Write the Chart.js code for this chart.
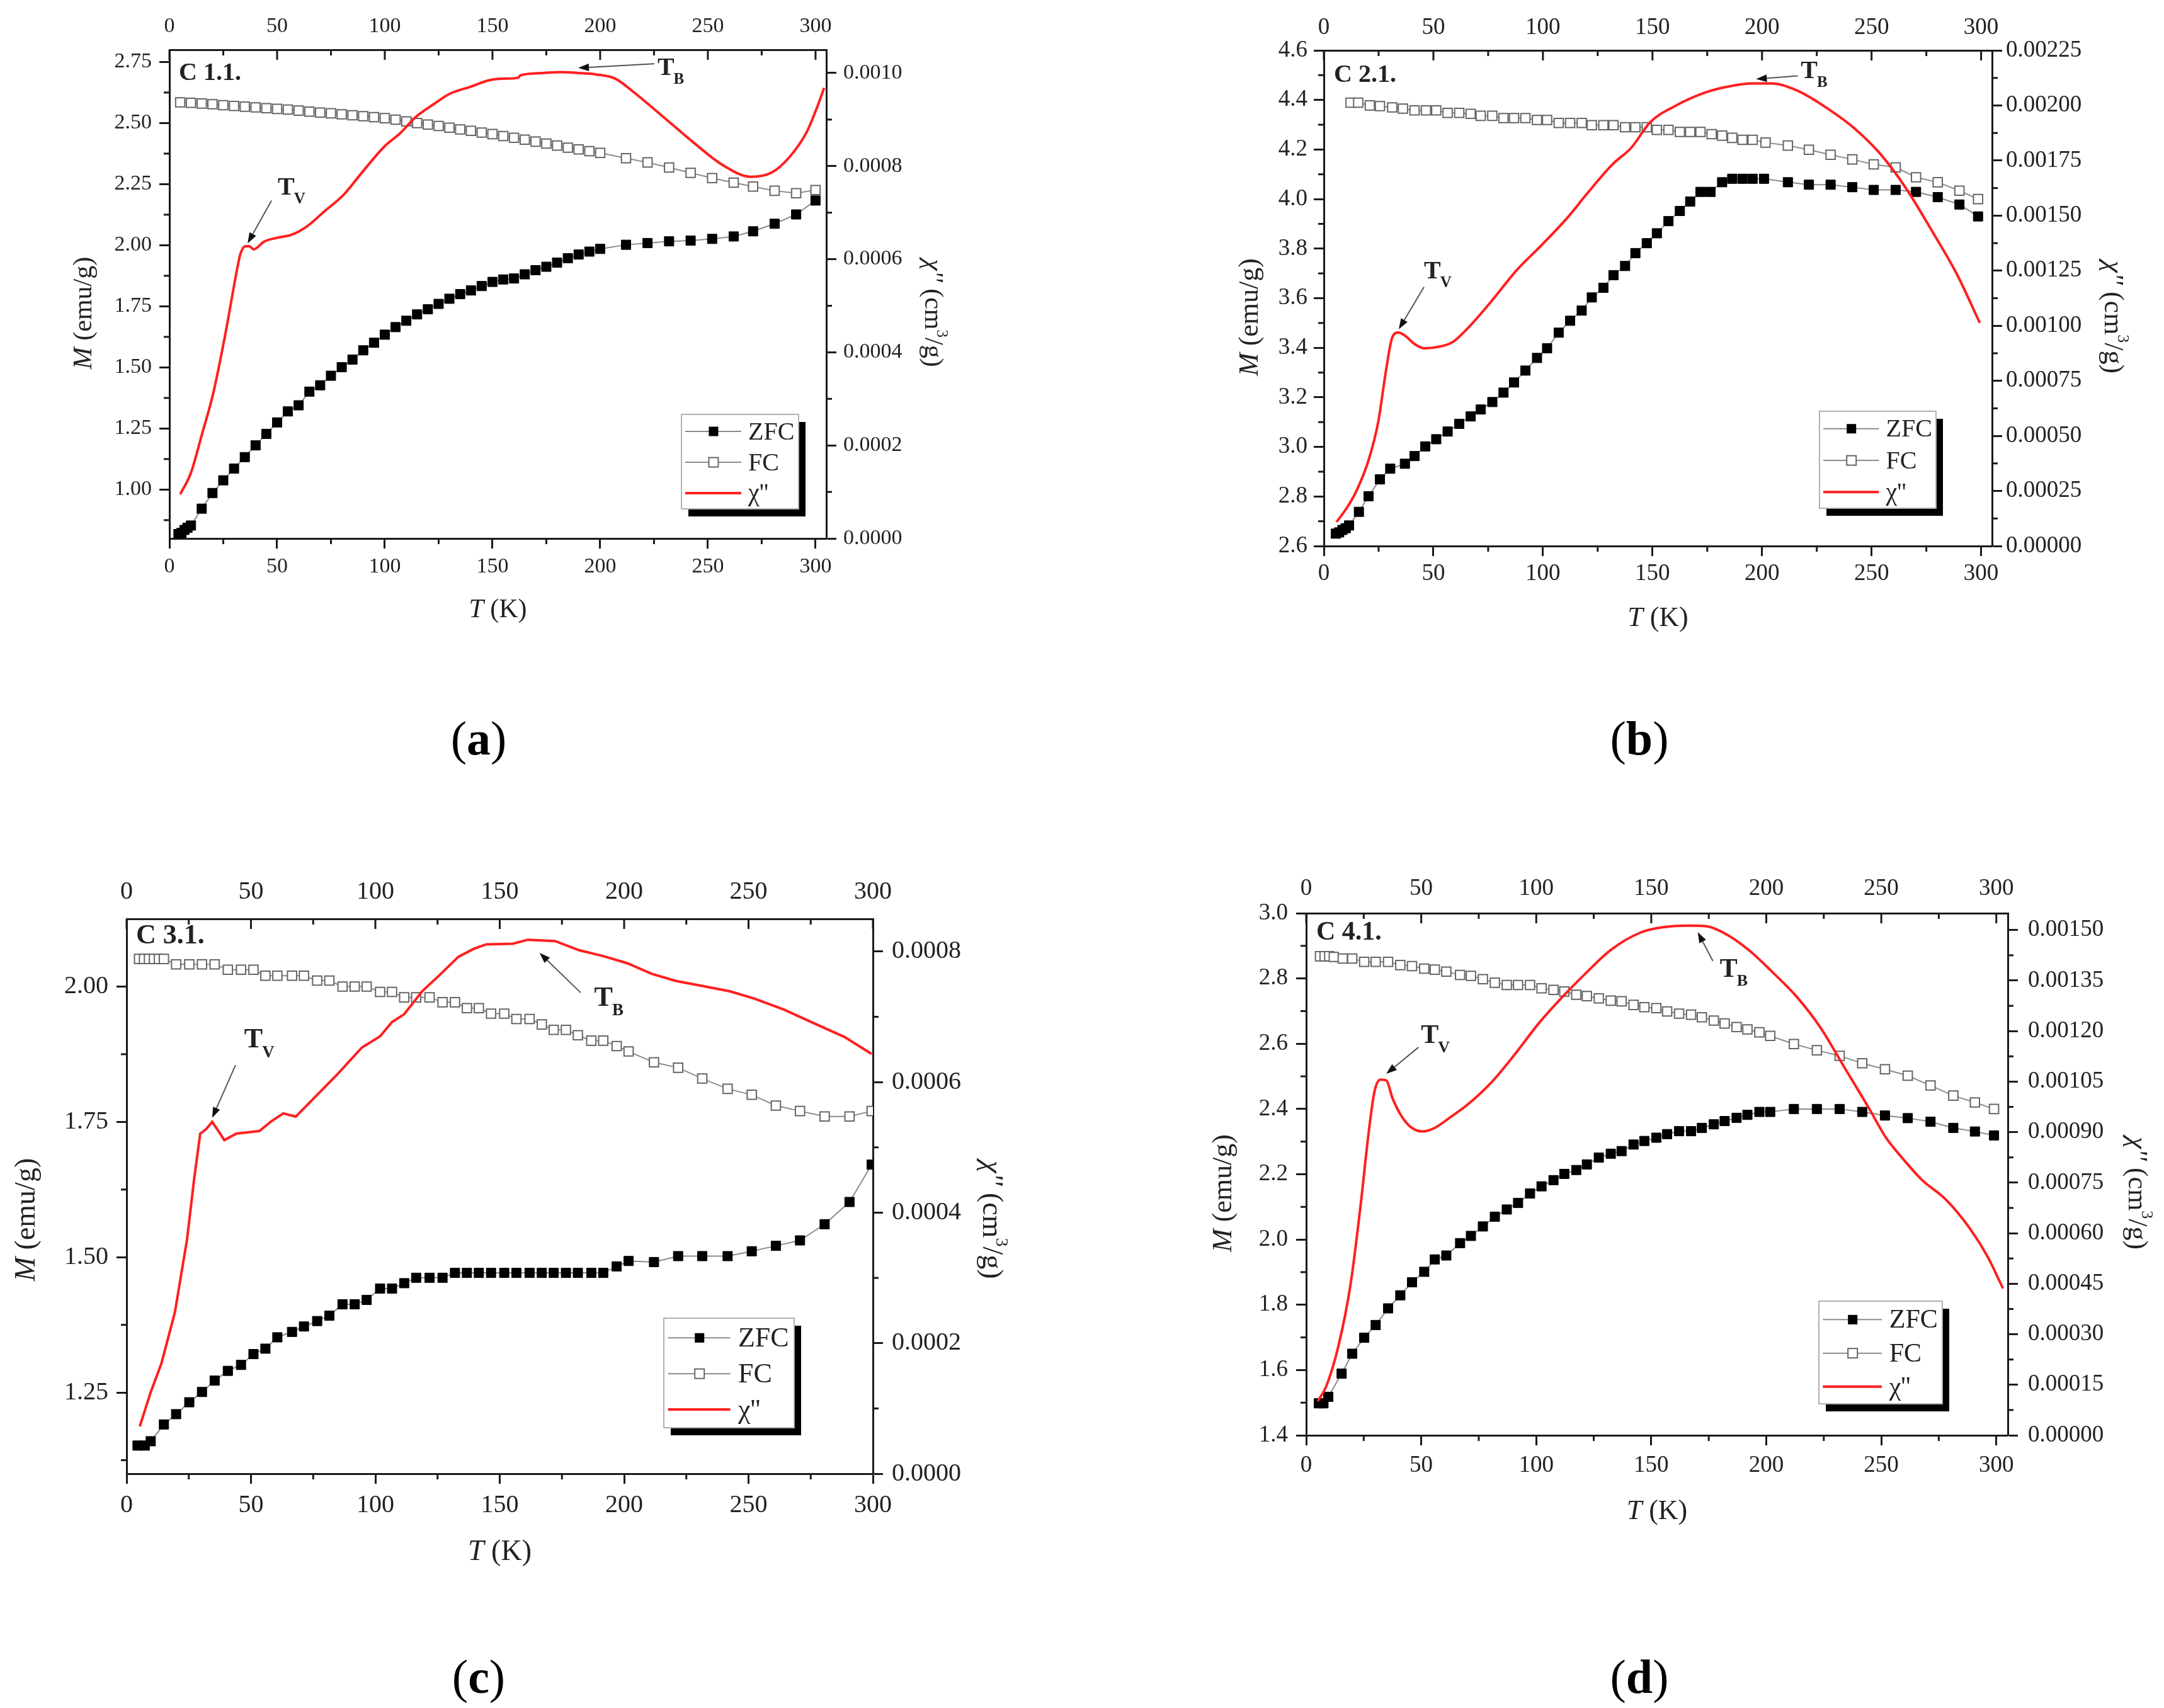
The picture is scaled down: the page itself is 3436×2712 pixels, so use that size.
<!DOCTYPE html>
<html><head><meta charset="utf-8"><title>ZFC / FC magnetization and χ''</title>
<script src="https://cdn.jsdelivr.net/npm/chart.js@4.4.0/dist/chart.umd.min.js"></script>
<style>
html,body{margin:0;padding:0;background:#fff;}
body{width:3436px;height:2712px;position:relative;overflow:hidden;}
canvas{position:absolute;}
.plabel{position:absolute;font-family:'Liberation Serif','Times New Roman',serif;font-size:76px;color:#000;transform:translate(-50%,-50%);white-space:nowrap;line-height:1;}
.plabel b{font-weight:bold;}
</style></head><body>
<div class="plabel" style="left:760px;top:1172px">(<b>a</b>)</div>
<div class="plabel" style="left:2603px;top:1172px">(<b>b</b>)</div>
<div class="plabel" style="left:760px;top:2662px">(<b>c</b>)</div>
<div class="plabel" style="left:2603px;top:2662px">(<b>d</b>)</div>
<script>
// ---------------- DATA ----------------
const X_TICKS = [0, 50, 100, 150, 200, 250, 300];

// Panel (a) C 1.1.
const A_ZFC_T = [4.2,5.6,7,8.4,10,15,20,25,30,35,40,45,50,55,60,65,70,75,80,85,90,95,100,105,110,115,120,125,130,135,140,145,150,155,160,165,170,175,180,185,190,195,200,212,222,232,242,252,262,271,281,291,300];
const A_ZFC_M = [0.818,0.823,0.835,0.844,0.853,0.922,0.986,1.038,1.086,1.133,1.181,1.228,1.275,1.320,1.345,1.401,1.427,1.466,1.501,1.532,1.570,1.601,1.634,1.665,1.691,1.717,1.738,1.760,1.781,1.800,1.815,1.833,1.850,1.860,1.864,1.881,1.898,1.912,1.929,1.947,1.962,1.974,1.985,2.002,2.009,2.016,2.019,2.026,2.036,2.057,2.088,2.126,2.183];
const A_FC_T = [5,10,15,20,25,30,35,40,45,50,55,60,65,70,75,80,85,90,95,100,105,110,115,120,125,130,135,140,145,150,155,160,165,170,175,180,185,190,195,200,212,222,232,242,252,262,271,281,291,300];
const A_FC_M = [2.585,2.583,2.580,2.577,2.573,2.570,2.567,2.564,2.561,2.558,2.555,2.551,2.547,2.543,2.540,2.536,2.532,2.528,2.524,2.520,2.514,2.507,2.500,2.494,2.488,2.481,2.474,2.468,2.461,2.455,2.447,2.440,2.432,2.424,2.416,2.408,2.399,2.392,2.385,2.378,2.356,2.339,2.318,2.296,2.275,2.256,2.240,2.223,2.213,2.226];
const A_CHI_T = [5,10,15,20.4,26,31.7,33,35.3,37,39.2,41,43.7,50,57,64,72,81,89,100,107,114,123,130,139.5,149,156,162,163,173,181.5,190,198,207,215,229,243,257,270,279.6,288,296,300.6,304];
const A_CHI = [0.000095,0.000141,0.000222,0.000313,0.000440,0.000585,0.000612,0.000628,0.000628,0.000621,0.000626,0.000637,0.000646,0.000653,0.000671,0.000703,0.000739,0.000784,0.000843,0.000870,0.000904,0.000934,0.000955,0.000970,0.000985,0.000988,0.000990,0.000995,0.001000,0.001002,0.001000,0.000997,0.000988,0.000961,0.000907,0.000852,0.000802,0.000777,0.000786,0.000820,0.000874,0.000925,0.000968];
const A_Y_TICKS = [1.00,1.25,1.50,1.75,2.00,2.25,2.50,2.75];
const A_Y1_TICKS = [0,0.0002,0.0004,0.0006,0.0008,0.0010];

// Panel (b) C 2.1.
const B_ZFC_T = [5.5,7,8.5,10,11.5,16,20.4,25.6,30.3,37,41.4,46.3,51.3,56.5,61.8,67,71.6,76.9,82,86.8,92,97.3,101.9,107.2,112.4,117.7,122.3,127.6,132.2,137.5,142.2,147.4,152,157.3,162.5,167.2,171.9,176.5,181.8,186.4,191.1,195.7,200.9,211.8,221.4,231.3,241.2,251,261,270.3,280.2,290.1,298.6];
const B_ZFC_M = [2.650,2.655,2.665,2.672,2.683,2.738,2.801,2.869,2.912,2.932,2.963,3.002,3.031,3.062,3.093,3.123,3.151,3.181,3.219,3.260,3.308,3.359,3.398,3.461,3.509,3.550,3.603,3.642,3.693,3.730,3.782,3.822,3.862,3.911,3.952,3.990,4.029,4.029,4.068,4.082,4.082,4.082,4.082,4.068,4.058,4.058,4.048,4.037,4.037,4.029,4.008,3.978,3.930];
const B_FC_T = [12.2,15.7,21,25.6,31.2,36.1,41.4,46.6,51.3,56.5,61.8,67,71.6,76.9,82,86.8,92,97.3,101.9,107.2,112.4,117.7,122.3,127.6,132.2,137.5,142.2,147.4,152,157.3,162.5,167.2,171.9,177,181.8,186.4,191.1,195.7,201.6,211.8,221.4,231.3,241.2,251,261,270.3,280.2,290.1,298.6];
const B_FC_M = [4.389,4.389,4.378,4.375,4.370,4.365,4.358,4.358,4.358,4.348,4.348,4.344,4.336,4.336,4.327,4.327,4.327,4.319,4.319,4.307,4.307,4.307,4.298,4.298,4.298,4.290,4.290,4.290,4.279,4.279,4.271,4.271,4.271,4.262,4.256,4.247,4.239,4.239,4.228,4.216,4.199,4.179,4.160,4.140,4.128,4.088,4.068,4.034,4.000];
const B_CHI_T = [5.8,10.8,15.1,20.4,24.8,28.3,31.2,34,37,41.4,45.7,51.6,58.8,66.1,76.3,88,99.6,111.3,120,131.7,140.4,149,160.8,173.9,184,195.7,204.5,216,230.7,242.3,254,265.6,277.3,289,299.4];
const B_CHI = [0.000109,0.000178,0.000255,0.000389,0.000562,0.000792,0.000946,0.000969,0.000955,0.000917,0.000898,0.000903,0.000926,0.000993,0.001109,0.001252,0.001368,0.001492,0.001598,0.001732,0.001809,0.001924,0.002000,0.002058,0.002085,0.002100,0.002100,0.002068,0.001981,0.001895,0.001780,0.001626,0.001435,0.001233,0.001013];
const B_Y_TICKS = [2.6,2.8,3.0,3.2,3.4,3.6,3.8,4.0,4.2,4.4,4.6];
const B_Y1_TICKS = [0,0.00025,0.0005,0.00075,0.001,0.00125,0.0015,0.00175,0.002,0.00225];

// Panel (c) C 3.1.
const C_ZFC_T = [4.4,7.3,9.7,15,19.9,25.2,30.3,35.4,40.7,46,51,55.8,60.6,66.5,71.3,76.6,81.5,86.8,91.7,96.5,101.9,106.7,111.6,116.4,121.8,127,132,136.8,141.6,146.5,151.8,156.7,162,166.9,171.7,176.6,181.4,186.8,191.6,197,201.8,212,221.7,231.4,241.6,251.3,261,270.7,280.6,290.6,299.5];
const C_ZFC_M = [1.152,1.152,1.160,1.191,1.210,1.232,1.251,1.272,1.290,1.301,1.321,1.331,1.352,1.362,1.372,1.382,1.392,1.413,1.413,1.421,1.442,1.442,1.452,1.462,1.462,1.462,1.471,1.471,1.471,1.471,1.471,1.471,1.471,1.471,1.471,1.471,1.471,1.471,1.471,1.483,1.493,1.491,1.502,1.502,1.502,1.511,1.521,1.531,1.561,1.602,1.671];
const C_FC_T = [5,7,9,11,13,15,19.9,25.2,30.3,35.4,40.7,46,51,55.8,60.6,66.5,71.3,76.6,81.5,86.8,91.7,96.5,101.9,106.7,111.6,116.4,121.8,127,132,136.8,141.6,146.5,151.8,156.7,162,166.9,171.7,176.6,181.4,186.8,191.6,197,201.8,212,221.7,231.4,241.6,251.3,261,270.7,280.6,290.6,299.5];
const C_FC_M = [2.051,2.051,2.051,2.051,2.051,2.051,2.041,2.041,2.041,2.041,2.031,2.031,2.031,2.020,2.020,2.020,2.020,2.011,2.011,2.000,2.000,2.000,1.990,1.990,1.980,1.980,1.980,1.971,1.971,1.960,1.960,1.950,1.950,1.940,1.940,1.930,1.920,1.920,1.910,1.900,1.900,1.890,1.880,1.860,1.850,1.830,1.811,1.800,1.780,1.770,1.760,1.760,1.770];
const C_CHI_T = [5.3,9.7,14,19.4,24.3,27.2,29.6,32,34.4,36.9,39.3,44.1,53.4,58.2,63,68,75.2,85,94.6,101.9,106.7,111.6,118.8,126.1,133.4,139.5,144.6,155.2,161.3,172.2,181.9,191.6,201.3,211,220.7,230.4,242.5,252.2,264.3,274,288.6,299.5];
const C_CHI = [0.0000724,0.000125,0.000169,0.000247,0.000359,0.000453,0.000521,0.000528,0.000539,0.000525,0.000511,0.000521,0.000525,0.000540,0.000552,0.000547,0.000575,0.000613,0.000653,0.000670,0.000692,0.000704,0.000739,0.000765,0.000792,0.000804,0.000811,0.000812,0.000818,0.000816,0.000802,0.000793,0.000782,0.000766,0.000755,0.000748,0.000739,0.000728,0.000711,0.000694,0.000669,0.000643];
const C_Y_TICKS = [1.25,1.50,1.75,2.00];
const C_Y1_TICKS = [0,0.0002,0.0004,0.0006,0.0008];

// Panel (d) C 4.1.
const D_ZFC_T = [5.5,7.5,9.6,15.4,20,25.2,30.2,35.6,40.9,46,51.3,55.9,60.9,66.9,71.6,76.8,82,87.2,92.1,97.3,102.3,107.5,112.2,117.4,122,127.2,132.4,137.1,142.3,147,152.2,156.9,162.1,167.3,172,177.2,181.9,187.1,191.8,197,201.7,212,222,231.9,241.7,251.6,261.5,271.4,281.3,290.7,299];
const D_ZFC_M = [1.498,1.498,1.518,1.589,1.650,1.699,1.738,1.789,1.829,1.869,1.901,1.939,1.951,1.989,2.011,2.040,2.070,2.092,2.112,2.141,2.163,2.182,2.201,2.213,2.230,2.251,2.263,2.271,2.291,2.302,2.312,2.323,2.332,2.332,2.342,2.353,2.363,2.373,2.382,2.391,2.391,2.400,2.400,2.400,2.391,2.380,2.372,2.361,2.342,2.331,2.319];
const D_FC_T = [6,8,10,12,15.9,20,25.2,30.2,35.6,40.9,46,51.3,55.9,60.9,66.9,71.6,76.8,82,87.2,92.1,97.3,102.3,107.5,112.2,117.4,122,127.2,132.4,137.1,142.3,147,152.2,156.9,162.1,167.3,172,177.2,181.9,187.1,191.8,197,201.7,212,222,231.9,241.7,251.6,261.5,271.4,281.3,290.7,299];
const D_FC_M = [2.868,2.868,2.868,2.866,2.861,2.861,2.851,2.851,2.851,2.841,2.838,2.830,2.827,2.821,2.811,2.808,2.798,2.787,2.780,2.780,2.780,2.770,2.765,2.760,2.750,2.746,2.739,2.732,2.730,2.719,2.712,2.709,2.699,2.692,2.689,2.681,2.671,2.662,2.651,2.644,2.635,2.624,2.599,2.580,2.563,2.540,2.522,2.502,2.472,2.441,2.420,2.400];
const D_CHI_T = [5,8.8,14,19.3,23.7,27.1,29.7,32.3,34.9,37.5,41.4,45.3,50.5,55.7,62.2,70,80.4,90.8,101.2,111.6,122,132.4,145.5,155.9,166.3,174,181.9,192.3,202.7,213.1,223.5,233.9,244.3,252.1,259.9,267.7,278.2,288.6,296.4,302.9];
const D_CHI = [0.000101,0.000147,0.000265,0.000449,0.000686,0.000896,0.001021,0.001056,0.001053,0.001001,0.000948,0.000916,0.000902,0.000912,0.000942,0.000981,0.001047,0.001132,0.001224,0.001303,0.001375,0.001441,0.001493,0.001509,0.001513,0.001511,0.001490,0.001441,0.001375,0.001303,0.001211,0.001093,0.000975,0.000883,0.000817,0.000758,0.000699,0.000613,0.000528,0.000436];
const D_Y_TICKS = [1.4,1.6,1.8,2.0,2.2,2.4,2.6,2.8,3.0];
const D_Y1_TICKS = [0,0.00015,0.0003,0.00045,0.0006,0.00075,0.0009,0.00105,0.0012,0.00135,0.0015];

const LEGEND_LABELS = ['ZFC', 'FC', "χ''"];

// ---------------- STYLE / LAYOUT ----------------
const FONT = "'Liberation Serif','Times New Roman',serif";
const TXT = '#222';
const AX = '#1a1a1a';
const RED = '#ff1f1f';
const LINEGRAY = '#8c8c8c';

const PANELS = [
  { name:'C 1.1.', rect:[269,79,1312,855], xMax:305, yMin:0.8, yMax:2.8, y1Max:0.00105,
    zfcT:A_ZFC_T, zfcM:A_ZFC_M, fcT:A_FC_T, fcM:A_FC_M, chiT:A_CHI_T, chi:A_CHI,
    yTicks:A_Y_TICKS, y1Ticks:A_Y1_TICKS, yDec:2, y1Dec:4, yMinor:0.125, y1Minor:0.0001,
    fs:34, tfs:42, lfs:40, afs:40, pad:{x:9,x2:17,y:12,y1:11},
    titles:{bt:114, lt:135, rt:168, ty:30}, legend:[813,579,186,150], tension:0.25,
    ann:{tb:{tip:[189.8,0.001011], tail:[225.1,0.00102], text:[226.6,0.00101]},
         tv:{tip:[36.3,0.000634], tail:[47.4,0.000726], text:[50.3,0.000753]}}, lab:[15,38] },
  { name:'C 2.1.', rect:[2102,80,3163,867], xMax:305, yMin:2.6, yMax:4.6, y1Max:0.00225,
    zfcT:B_ZFC_T, zfcM:B_ZFC_M, fcT:B_FC_T, fcM:B_FC_M, chiT:B_CHI_T, chi:B_CHI,
    yTicks:B_Y_TICKS, y1Ticks:B_Y1_TICKS, yDec:1, y1Dec:5, yMinor:0.1, y1Minor:0.000125,
    fs:37, tfs:44, lfs:40, afs:40, pad:{x:6,x2:14,y:10,y1:6},
    titles:{bt:115, lt:117, rt:191, ty:30}, legend:[787,573,185,154], tension:0.3,
    ann:{tb:{tip:[197.3,0.00212], tail:[216.3,0.002134], text:[217.7,0.002154]},
         tv:{tip:[34.2,0.000984], tail:[45.7,0.001176], text:[45.7,0.001244]}}, lab:[16,40] },
  { name:'C 3.1.', rect:[201,1459,1386,2340], xMax:300, yMin:1.10, yMax:2.125, y1Max:0.00085,
    zfcT:C_ZFC_T, zfcM:C_ZFC_M, fcT:C_FC_T, fcM:C_FC_M, chiT:C_CHI_T, chi:C_CHI,
    yTicks:C_Y_TICKS, y1Ticks:C_Y1_TICKS, yDec:2, y1Dec:4, yMinor:0.125, y1Minor:0.0001,
    fs:40, tfs:46, lfs:44, afs:44, pad:{x:10,x2:19,y:13,y1:14},
    titles:{bt:125, lt:158, rt:187, ty:37}, legend:[853,634,207,174], tension:0,
    ann:{tb:{tip:[166,0.000798], tail:[182.5,0.000737], text:[188,0.000728]},
         tv:{tip:[34.4,0.000545], tail:[43.8,0.000626], text:[47.3,0.000664]}}, lab:[15,28] },
  { name:'C 4.1.', rect:[2074,1450,3188,2279], xMax:305, yMin:1.4, yMax:3.0, y1Max:0.00155,
    zfcT:D_ZFC_T, zfcM:D_ZFC_M, fcT:D_FC_T, fcM:D_FC_M, chiT:D_CHI_T, chi:D_CHI,
    yTicks:D_Y_TICKS, y1Ticks:D_Y1_TICKS, yDec:1, y1Dec:5, yMinor:0.1, y1Minor:0.000075,
    fs:37, tfs:44, lfs:42, afs:42, pad:{x:10,x2:17,y:13,y1:16},
    titles:{bt:121, lt:131, rt:204, ty:30}, legend:[814,616,196,163], tension:0.3,
    ann:{tb:{tip:[170.2,0.001494], tail:[176.8,0.001408], text:[179.8,0.001382]},
         tv:{tip:[34.8,0.001073], tail:[48.8,0.001152], text:[49.9,0.001185]}}, lab:[16,31] }
];

// ---------------- DRAW HELPERS ----------------
function drawRuns(ctx, runs, x, y, rot, size) {
  ctx.save();
  ctx.translate(x, y); ctx.rotate(rot);
  ctx.textBaseline = 'middle'; ctx.textAlign = 'left'; ctx.fillStyle = TXT;
  const fontOf = r => (r.italic ? 'italic ' : '') + (r.bold ? 'bold ' : '') + (r.sup ? Math.round(size * 0.6) : size) + 'px ' + FONT;
  let w = 0;
  runs.forEach(r => { ctx.font = fontOf(r); w += ctx.measureText(r.t).width; });
  let cx = -w / 2;
  runs.forEach(r => { ctx.font = fontOf(r); ctx.fillText(r.t, cx, r.sup ? -size * 0.35 : 0); cx += ctx.measureText(r.t).width; });
  ctx.restore();
}
function arrow(ctx, x1, y1, x2, y2) {
  const a = Math.atan2(y2 - y1, x2 - x1), L = 17, W = 6;
  const bx = x2 - L * Math.cos(a), by = y2 - L * Math.sin(a);
  ctx.strokeStyle = '#555'; ctx.lineWidth = 2;
  ctx.beginPath(); ctx.moveTo(x1, y1); ctx.lineTo(bx, by); ctx.stroke();
  ctx.fillStyle = '#111';
  ctx.beginPath(); ctx.moveTo(x2, y2);
  ctx.lineTo(bx + W * Math.sin(a), by - W * Math.cos(a));
  ctx.lineTo(bx - W * Math.sin(a), by + W * Math.cos(a));
  ctx.closePath(); ctx.fill();
}
function square(ctx, x, y, s, filled) {
  if (filled) { ctx.fillStyle = '#000'; ctx.fillRect(x - s/2, y - s/2, s, s); }
  else { ctx.fillStyle = '#fff'; ctx.fillRect(x - s/2, y - s/2, s, s); ctx.strokeStyle = '#666'; ctx.lineWidth = 2; ctx.strokeRect(x - s/2, y - s/2, s, s); }
}

function decor(P) {
  return {
    id: 'decor',
    afterDraw(chart) {
      const ctx = chart.ctx, ca = chart.chartArea;
      const sx = chart.scales.x, sy = chart.scales.y, sy1 = chart.scales.y1;
      ctx.save();
      ctx.strokeStyle = AX; ctx.lineWidth = 3; ctx.lineCap = 'butt';
      const seg = (a, b, c, d) => { ctx.beginPath(); ctx.moveTo(a, b); ctx.lineTo(c, d); ctx.stroke(); };
      // x: minor ticks at bottom (outward), all ticks at top (inward)
      const xMinor = 25;
      for (let k = 0; k * xMinor <= P.xMax + 1e-9; k++) {
        const px = sx.getPixelForValue(k * xMinor);
        const major = k % 2 === 0;
        if (!major) seg(px, ca.bottom, px, ca.bottom + 9);
        seg(px, ca.top, px, ca.top + (major ? 16 : 9));
      }
      // y left minor ticks
      for (let k = Math.ceil(P.yMin / P.yMinor - 1e-6); k * P.yMinor < P.yMax - 1e-9; k++) {
        if (k % 2 === 0) continue;
        const v = k * P.yMinor; if (v <= P.yMin + 1e-9) continue;
        const py = sy.getPixelForValue(v); seg(ca.left - 9, py, ca.left, py);
      }
      // y right minor ticks
      for (let k = 1; k * P.y1Minor < P.y1Max - 1e-12; k += 2) {
        const py = sy1.getPixelForValue(k * P.y1Minor); seg(ca.right, py, ca.right + 9, py);
      }
      // axis titles
      const cx = (ca.left + ca.right) / 2, cy = (ca.top + ca.bottom) / 2;
      drawRuns(ctx, [{t:'T', italic:true}, {t:' (K)'}], cx, ca.bottom + P.titles.bt, 0, P.tfs);
      drawRuns(ctx, [{t:'M', italic:true}, {t:' (emu/g)'}], ca.left - P.titles.lt, cy + P.titles.ty, -Math.PI / 2, P.tfs);
      drawRuns(ctx, [{t:"χ''", italic:true}, {t:' (cm'}, {t:'3', sup:true}, {t:'/g)'}], ca.right + P.titles.rt, cy + P.titles.ty, Math.PI / 2, P.tfs);
      // sample label
      ctx.fillStyle = TXT; ctx.textBaseline = 'middle'; ctx.textAlign = 'left';
      ctx.font = 'bold ' + P.afs + 'px ' + FONT;
      ctx.fillText(P.name, ca.left + P.lab[0], ca.top + P.lab[1]);
      // annotations T_B, T_V
      const pt = p => [sx.getPixelForValue(p[0]), sy1.getPixelForValue(p[1])];
      [['B', P.ann.tb], ['V', P.ann.tv]].forEach(([sub, a]) => {
        const tip = pt(a.tip), tail = pt(a.tail), tx = pt(a.text);
        arrow(ctx, tail[0], tail[1], tip[0], tip[1]);
        ctx.fillStyle = TXT; ctx.textBaseline = 'middle'; ctx.textAlign = 'left';
        ctx.font = 'bold ' + P.afs + 'px ' + FONT;
        ctx.fillText('T', tx[0], tx[1]);
        const w = ctx.measureText('T').width;
        ctx.font = 'bold ' + Math.round(P.afs * 0.62) + 'px ' + FONT;
        ctx.fillText(sub, tx[0] + w - 1, tx[1] + P.afs * 0.45);
      });
      // legend with drop shadow
      const [lx, ly, lw, lh] = P.legend;
      const bx = ca.left + lx, by = ca.top + ly;
      ctx.fillStyle = '#000'; ctx.fillRect(bx + 11, by + 12, lw, lh);
      ctx.fillStyle = '#fff'; ctx.fillRect(bx, by, lw, lh);
      ctx.strokeStyle = '#b0b0b0'; ctx.lineWidth = 2; ctx.strokeRect(bx, by, lw, lh);
      const rows = [0.18, 0.507, 0.833].map(f => by + lh * f);
      const x0 = bx + lw * 0.032, x1 = bx + lw * 0.51, xm = bx + lw * 0.274;
      for (let i = 0; i < 3; i++) {
        const ry = rows[i];
        if (i < 2) {
          ctx.strokeStyle = LINEGRAY; ctx.lineWidth = 2; seg(x0, ry, x1, ry);
          square(ctx, xm, ry, 15, i === 0);
        } else {
          ctx.strokeStyle = RED; ctx.lineWidth = 4; seg(x0, ry, x1, ry);
        }
        ctx.fillStyle = TXT; ctx.textBaseline = 'middle'; ctx.textAlign = 'left';
        ctx.font = P.lfs + 'px ' + FONT;
        ctx.fillText(LEGEND_LABELS[i], bx + lw * 0.57, ry + 2);
      }
      ctx.restore();
    }
  };
}

function makeChart(P) {
  const [L, T, R, B] = P.rect;
  const padL = 260, padR = 260, padT = 75, padB = 180;
  const cv = document.createElement('canvas');
  cv.width = R - L + padL + padR; cv.height = B - T + padT + padB;
  cv.style.left = (L - padL) + 'px'; cv.style.top = (T - padT) + 'px';
  cv.style.width = cv.width + 'px'; cv.style.height = cv.height + 'px';
  document.body.appendChild(cv);
  const tickFont = { family: FONT, size: P.fs };
  const gridOut = { display: true, drawOnChartArea: false, drawTicks: true, tickLength: 16, tickWidth: 3, tickColor: AX };
  const border = { display: true, color: AX, width: 3 };
  const setTicks = arr => s => { s.ticks = arr.map(v => ({ value: v })); };
  const pts = (xs, ys) => xs.map((t, i) => ({ x: t, y: ys[i] }));
  const smooth = P.tension > 0 ? { cubicInterpolationMode: 'monotone' } : { tension: 0 };
  new Chart(cv, {
    type: 'line',
    data: {
      datasets: [
        Object.assign({ label: LEGEND_LABELS[2], data: pts(P.chiT, P.chi), yAxisID: 'y1', borderColor: RED, borderWidth: 4, pointRadius: 0, fill: false, order: 0 }, smooth),
        { label: LEGEND_LABELS[1], data: pts(P.fcT, P.fcM), yAxisID: 'y', borderColor: LINEGRAY, borderWidth: 2, tension: 0,
          pointStyle: 'rect', pointRadius: 10.3, pointBackgroundColor: '#fff', pointBorderColor: '#666', pointBorderWidth: 2, order: 1 },
        { label: LEGEND_LABELS[0], data: pts(P.zfcT, P.zfcM), yAxisID: 'y', borderColor: LINEGRAY, borderWidth: 2, tension: 0,
          pointStyle: 'rect', pointRadius: 10.6, pointBackgroundColor: '#000', pointBorderColor: '#000', pointBorderWidth: 1, order: 2 }
      ]
    },
    options: {
      responsive: false, animation: false, devicePixelRatio: 1, events: [],
      layout: { padding: 0 },
      plugins: { legend: { display: false }, tooltip: { enabled: false } },
      scales: {
        x: { type: 'linear', position: 'bottom', min: 0, max: P.xMax,
             afterFit: s => { s.height = padB; }, afterBuildTicks: setTicks(X_TICKS),
             ticks: { font: tickFont, color: TXT, padding: P.pad.x, autoSkip: false, maxRotation: 0, callback: v => String(v) },
             grid: gridOut, border },
        x2: { type: 'linear', position: 'top', min: 0, max: P.xMax,
             afterFit: s => { s.height = padT; }, afterBuildTicks: setTicks(X_TICKS),
             ticks: { font: tickFont, color: TXT, padding: P.pad.x2, autoSkip: false, maxRotation: 0, callback: v => String(v) },
             grid: { display: true, drawOnChartArea: false, drawTicks: false }, border },
        y: { type: 'linear', position: 'left', min: P.yMin, max: P.yMax,
             afterFit: s => { s.width = padL; }, afterBuildTicks: setTicks(P.yTicks),
             ticks: { font: tickFont, color: TXT, padding: P.pad.y, autoSkip: false, callback: v => Number(v).toFixed(P.yDec) },
             grid: gridOut, border },
        y1: { type: 'linear', position: 'right', min: 0, max: P.y1Max,
             afterFit: s => { s.width = padR; }, afterBuildTicks: setTicks(P.y1Ticks),
             ticks: { font: tickFont, color: TXT, padding: P.pad.y1, autoSkip: false, callback: v => Number(v).toFixed(P.y1Dec) },
             grid: gridOut, border }
      }
    },
    plugins: [decor(P)]
  });
}

PANELS.forEach(makeChart);
</script>
</body></html>
